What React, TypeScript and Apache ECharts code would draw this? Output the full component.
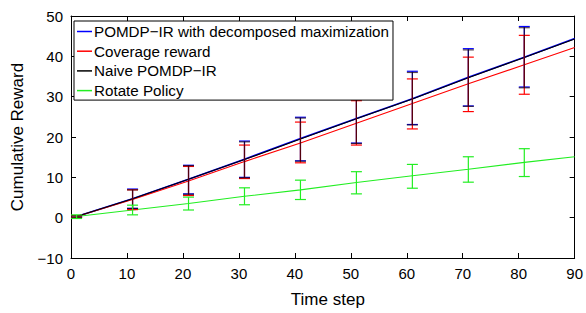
import React, { useEffect, useRef } from "react";
import * as echarts from "echarts";

const FONT = "Liberation Sans, Arial, Helvetica, sans-serif";

const names = [
  "POMDP−IR with decomposed maximization",
  "Coverage reward",
  "Naive POMDP−IR",
  "Rotate Policy",
];
const colors = ["#0000ff", "#ff0000", "#000000", "#22ee22"];

// x positions of error bars and line points
const xs = [1, 11, 21, 31, 41, 51, 61, 71, 81];
const xEnd = 90;

const blueMean = [0.3, 4.7, 9.5, 14.5, 19.6, 24.6, 29.5, 34.8, 39.8];
const blueEnd = 44.4;
const blueLow = [0.1, 2.3, 5.9, 10.0, 14.1, 18.5, 23.1, 27.7, 32.4];
const blueHigh = [0.5, 7.1, 13.0, 19.0, 24.9, 30.0, 36.3, 41.9, 47.4];

const redMean = [0.3, 4.5, 9.1, 13.9, 18.5, 23.4, 28.3, 33.2, 37.9];
const redEnd = 42.2;
const redLow = [0.1, 2.0, 5.5, 9.7, 13.6, 18.0, 22.0, 26.3, 30.6];
const redHigh = [0.5, 6.9, 12.7, 18.0, 23.7, 29.0, 34.4, 39.8, 45.2];

const blackMean = [0.3, 4.7, 9.5, 14.4, 19.5, 24.5, 29.4, 34.7, 39.7];
const blackEnd = 44.3;
const blackLow = [0.1, 2.3, 5.8, 9.9, 14.0, 18.4, 23.0, 27.6, 32.2];
const blackHigh = [0.5, 6.9, 12.9, 18.8, 24.7, 29.8, 36.0, 41.6, 47.1];

const greenMean = [0.3, 1.9, 3.5, 5.3, 6.9, 8.7, 10.4, 12.0, 13.7];
const greenEnd = 15.1;
const greenLow = [-0.2, 0.7, 1.9, 3.2, 4.5, 5.9, 7.3, 8.8, 10.2];
const greenHigh = [0.7, 3.1, 5.1, 7.4, 9.3, 11.4, 13.2, 15.1, 17.1];

const xTicks = { min: 0, max: 90, interval: 10 };
const yTicks = { min: -10, max: 50, interval: 10 };

function lineData(mean: number[], end: number) {
  const d = xs.map((x, i) => [x, mean[i]]);
  d.push([xEnd, end]);
  return d;
}

function errData(low: number[], high: number[]) {
  return xs.map((x, i) => [x, low[i], high[i]]);
}

function errSeries(name: string, color: string, low: number[], high: number[], opacity: number) {
  return {
    type: "custom",
    name: name + " err",
    data: errData(low, high),
    encode: { x: 0, y: [1, 2] },
    z: 3,
    renderItem: (params: any, api: any) => {
      const x = api.value(0);
      const lo = api.coord([x, api.value(1)]);
      const hi = api.coord([x, api.value(2)]);
      const hw = 5.5;
      const style = { stroke: color, lineWidth: 1.2, opacity };
      return {
        type: "group",
        children: [
          { type: "line", shape: { x1: lo[0], y1: lo[1], x2: hi[0], y2: hi[1] }, style },
          { type: "line", shape: { x1: lo[0] - hw, y1: lo[1], x2: lo[0] + hw, y2: lo[1] }, style },
          { type: "line", shape: { x1: hi[0] - hw, y1: hi[1], x2: hi[0] + hw, y2: hi[1] }, style },
        ],
      };
    },
  };
}

function lineSeries(name: string, color: string, data: number[][], width: number, z: number) {
  return {
    type: "line",
    name,
    data,
    symbol: "none",
    showSymbol: false,
    z,
    lineStyle: { color, width },
    itemStyle: { color },
  };
}

export default function App() {
  const ref = useRef<HTMLDivElement>(null);
  useEffect(() => {
    if (!ref.current) return;
    const chart = echarts.init(ref.current, undefined, { renderer: "svg" });
    const axisCommon = {
      axisLine: { show: true, onZero: false, lineStyle: { color: "#000", width: 1 } },
      axisTick: { show: true, inside: true, length: 5, lineStyle: { color: "#000" } },
      splitLine: { show: false },
    };
    chart.setOption({
      animation: false,
      backgroundColor: "#fff",
      grid: { left: 71, right: 10, top: 16, bottom: 51, containLabel: false },
      legend: {
        left: 74,
        top: 21,
        orient: "vertical",
        data: names.map((n) => ({ name: n, icon: "rect" })),
        itemWidth: 15,
        itemHeight: 1.5,
        itemGap: 4.7,
        borderColor: "#000",
        borderWidth: 1,
        borderRadius: 0,
        backgroundColor: "#fff",
        padding: [3, 4, 2, 3],
        selectedMode: false,
        textStyle: { fontSize: 15.2, fontFamily: FONT, color: "#000", padding: [0, 0, 0, -3], lineHeight: 15 },
      },
      xAxis: [
        {
          type: "value",
          ...xTicks,
          ...axisCommon,
          name: "Time step",
          nameLocation: "middle",
          nameGap: 33,
          nameTextStyle: { fontSize: 17, fontFamily: FONT, color: "#000", padding: [0, 0, 0, 10] },
          axisLabel: { fontSize: 15, fontFamily: FONT, color: "#000", margin: 8 },
        },
        {
          type: "value",
          position: "top",
          ...xTicks,
          ...axisCommon,
          axisLabel: { show: false },
        },
      ],
      yAxis: [
        {
          type: "value",
          ...yTicks,
          ...axisCommon,
          name: "Cumulative Reward",
          nameLocation: "middle",
          nameGap: 45,
          nameRotate: 90,
          nameTextStyle: { fontSize: 17, fontFamily: FONT, color: "#000" },
          axisLabel: {
            fontSize: 15,
            fontFamily: FONT,
            color: "#000",
            margin: 8,
            formatter: (v: number) => (v < 0 ? "−" + Math.abs(v) : String(v)),
          },
        },
        {
          type: "value",
          position: "right",
          ...yTicks,
          ...axisCommon,
          axisLabel: { show: false },
        },
      ],
      series: [
        lineSeries(names[0], colors[0], lineData(blueMean, blueEnd), 1.6, 2),
        errSeries(names[0], colors[0], blueLow, blueHigh, 1),
        lineSeries(names[1], colors[1], lineData(redMean, redEnd), 1.1, 2),
        errSeries(names[1], colors[1], redLow, redHigh, 1),
        lineSeries(names[2], colors[2], lineData(blackMean, blackEnd), 1.1, 2),
        errSeries(names[2], "#1a0010", blackLow, blackHigh, 0.75),
        lineSeries(names[3], colors[3], lineData(greenMean, greenEnd), 1.1, 2),
        errSeries(names[3], colors[3], greenLow, greenHigh, 1),
      ],
    });
    return () => chart.dispose();
  }, []);
  return (
    <div
      ref={ref}
      style={{ position: "fixed", left: 0, top: 0, width: 586, height: 313, overflow: "hidden" }}
    />
  );
}
